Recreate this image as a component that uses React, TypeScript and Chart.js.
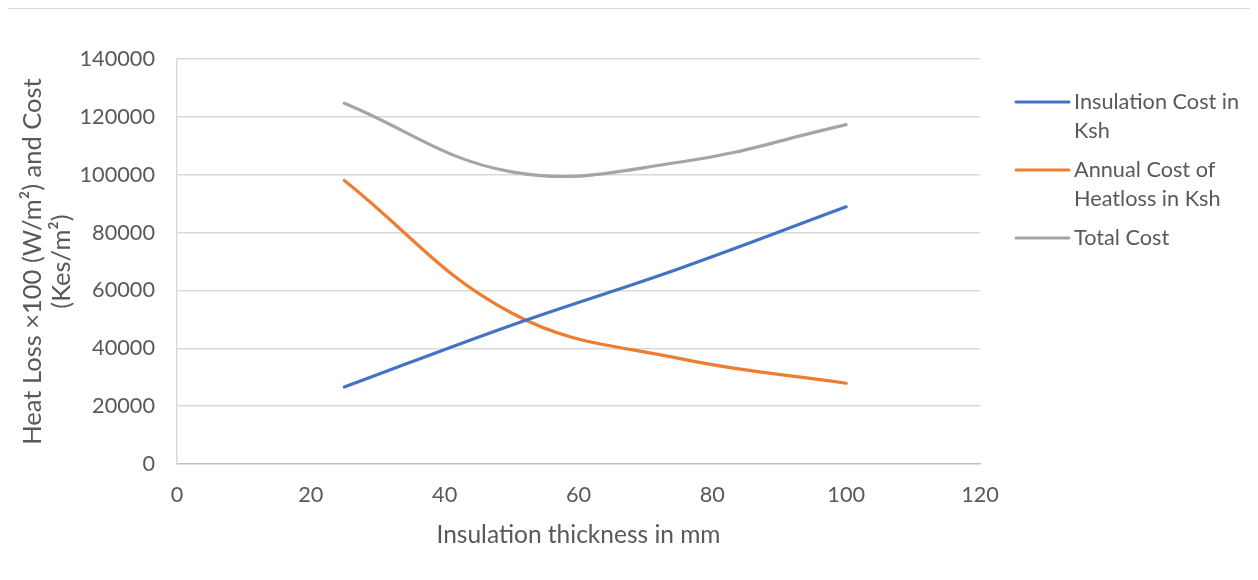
import React, { useEffect, useRef } from "react";
import Chart from "chart.js/auto";

const thickness = [25, 50, 75, 100];
const insulationCost = [26600, 48000, 67500, 88900];
const annualHeatlossCost = [98000, 52200, 36500, 27900];
const totalCost = [124700, 101000, 104300, 117300];

const seriesLabels = [
  ["Insulation Cost in", "Ksh"],
  ["Annual Cost of", "Heatloss in Ksh"],
  ["Total Cost"],
];
const seriesColors = ["#4472C4", "#ED7D31", "#A5A5A5"];
const yTitle = ["Heat Loss ×100 (W/m²) and Cost", "(Kes/m²)"];
const xTitle = "Insulation thickness in mm";

const FONT = "Lato, 'Open Sans', sans-serif";
const TEXT = "#595959";
const TICK_SIZE = 21.7;
const TITLE_SIZE = 24.5;
const Y_TITLE_SIZE = 25.5;

const W = 1250;
const H = 572;

const legendPlugin = {
  id: "customLegend",
  afterDraw(chart: any) {
    const ctx = chart.ctx;
    ctx.save();
    ctx.font = `${TICK_SIZE}px ${FONT}`;
    ctx.fillStyle = TEXT;
    ctx.textBaseline = "middle";
    ctx.textAlign = "left";
    let y = 94;
    seriesLabels.forEach((lines, i) => {
      ctx.strokeStyle = seriesColors[i];
      ctx.lineWidth = 3;
      ctx.lineCap = "round";
      ctx.beginPath();
      ctx.moveTo(1008, y);
      ctx.lineTo(1061, y);
      ctx.stroke();
      lines.forEach((t, j) => {
        ctx.fillText(t, 1066, y + j * 29.5);
      });
      y += (lines.length - 1) * 29.5 + 38.5;
    });
    ctx.restore();
  },
};

export default function App() {
  const ref = useRef<HTMLCanvasElement>(null);
  useEffect(() => {
    if (!ref.current) return;
    const mk = (data: number[]) => thickness.map((x, i) => ({ x, y: data[i] }));
    const datasets = [insulationCost, annualHeatlossCost, totalCost].map((d, i) => ({
      label: seriesLabels[i].join(" "),
      data: mk(d),
      borderColor: seriesColors[i],
      backgroundColor: seriesColors[i],
      borderWidth: 3.2,
      pointRadius: 0,
      tension: 0.4,
      borderCapStyle: "round" as const,
      fill: false,
    }));
    const chart = new Chart(ref.current, {
      type: "line",
      data: { datasets },
      plugins: [legendPlugin],
      options: {
        animation: false,
        responsive: false,
        devicePixelRatio: 1,
        layout: { padding: { top: 51, right: 278, bottom: 0, left: 0 } },
        plugins: { legend: { display: false }, tooltip: { enabled: false } },
        scales: {
          x: {
            type: "linear",
            min: 0,
            max: 120,
            afterFit: (s: any) => {
              s.height = 116;
            },
            ticks: {
              stepSize: 20,
              padding: 18,
              color: TEXT,
              font: { family: FONT, size: TICK_SIZE },
              maxRotation: 0,
            },
            grid: { display: false, drawTicks: false },
            border: { display: true, color: "#bfbfbf", width: 1.5 },
            title: {
              display: true,
              text: xTitle,
              color: TEXT,
              font: { family: FONT, size: TITLE_SIZE, lineHeight: 1.2 },
              padding: { top: 0, bottom: 30 },
            },
          },
          y: {
            min: 0,
            max: 140000,
            afterFit: (s: any) => {
              s.width = 169;
            },
            ticks: {
              stepSize: 20000,
              padding: 22,
              color: TEXT,
              font: { family: FONT, size: TICK_SIZE },
              callback: (v: any) => String(v),
            },
            grid: {
              drawTicks: false,
              color: (c: any) => (c.tick && c.tick.value === 0 ? "rgba(0,0,0,0)" : "#d9d9d9"),
              lineWidth: 1.5,
            },
            border: { display: true, color: "#d9d9d9", width: 1.5 },
            title: {
              display: true,
              text: yTitle,
              color: TEXT,
              font: { family: FONT, size: Y_TITLE_SIZE, lineHeight: 29 / Y_TITLE_SIZE },
              padding: { top: 10, bottom: 0 },
            },
          },
        },
      },
    });
    return () => chart.destroy();
  }, []);
  return (
    <div style={{ position: "relative", width: W, height: H }}>
      <div
        style={{
          position: "absolute",
          left: -1,
          top: 0,
          width: W + 20,
          height: H + 20,
          borderLeft: "1px solid #d9d9d9",
          borderTop: "1px solid #d9d9d9",
          boxSizing: "border-box",
        }}
      />
      <canvas
        ref={ref}
        width={W}
        height={H}
        style={{ position: "absolute", left: 0, top: 0, width: W, height: H }}
      />
    </div>
  );
}
